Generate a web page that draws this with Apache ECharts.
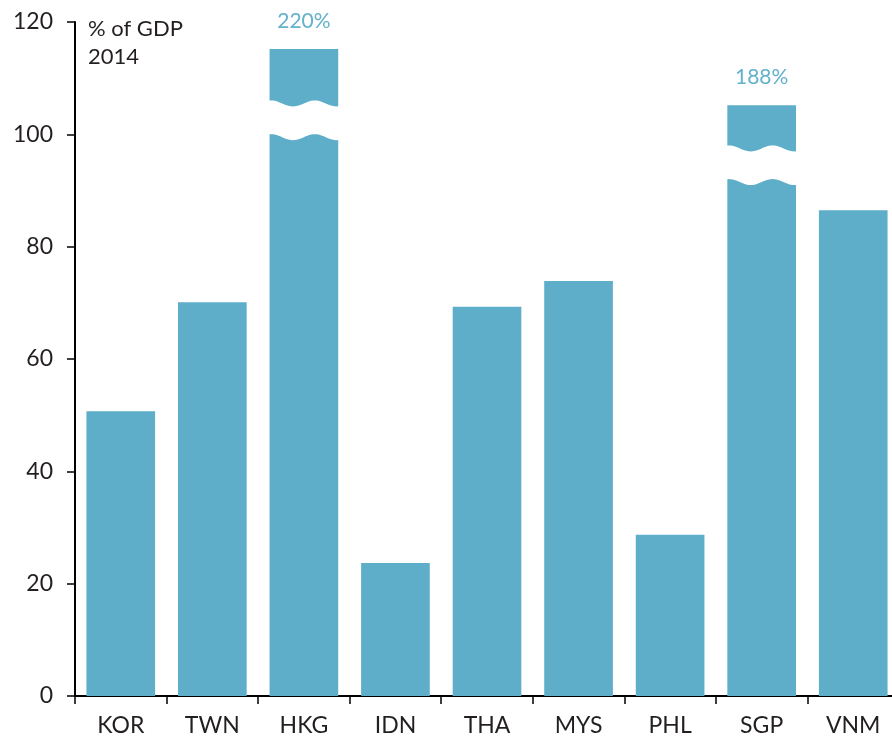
<!DOCTYPE html>
<html>
<head>
<meta charset="utf-8">
<script src="https://cdn.jsdelivr.net/npm/echarts@6/dist/echarts.min.js"></script>
<style>
  html, body { margin: 0; padding: 0; background: #fff; overflow: hidden; }
  /* a bit wider than the window: the reference crops the last category */
  #chart { width: 899px; height: 740px; }
</style>
</head>
<body>
<div id="chart"></div>
<script>
// values
const categories = ['KOR', 'TWN', 'HKG', 'IDN', 'THA', 'MYS', 'PHL', 'SGP', 'VNM'];
const barHeights = [50.7, 70.1, 115.2, 23.7, 69.3, 73.9, 28.7, 105.2, 86.5];
const trueLabels = ['', '', '220%', '', '', '', '', '188%', ''];
const breakLow = [null, null, 99.5, null, null, null, null, 91.5, null];
const breakHigh = [null, null, 105.5, null, null, null, null, 97.5, null];
const yMin = 0, yMax = 120, yStep = 20;

const barColor = '#5eaec9';
const font = 'Lato, "Noto Sans", sans-serif';

let chart = echarts.init(document.getElementById('chart'));

let breakData = [];
categories.forEach((c, i) => {
  if (breakLow[i] != null) breakData.push([i, breakLow[i], breakHigh[i]]);
});

// wavy white band across a bar
function renderBreak(params, api) {
  let idx = api.value(0);
  let low = api.coord([idx, api.value(1)]);
  let high = api.coord([idx, api.value(2)]);
  let w = api.size([1, 0])[0] * 0.75 + 4;
  let x0 = low[0] - w / 2;
  let amp = 3;
  let wave = t => -amp * Math.cos(2 * Math.PI * (t - 0.05) / 0.6);
  let pts = [];
  let n = 40;
  for (let k = 0; k <= n; k++) {
    let t = k / n;
    pts.push([x0 + t * w, high[1] + wave(t)]);
  }
  for (let k = n; k >= 0; k--) {
    let t = k / n;
    pts.push([x0 + t * w, low[1] + wave(t)]);
  }
  return {
    type: 'polygon',
    shape: { points: pts },
    style: { fill: '#fff' }
  };
}

chart.setOption({
  backgroundColor: '#fff',
  animation: false,
  grid: { left: 75, right: 0, top: 22, bottom: 44 },
  graphic: [{
    type: 'text',
    left: 88,
    top: 15,
    style: {
      text: '% of GDP\n2014',
      font: '22px ' + font,
      lineHeight: 28,
      fill: '#231f20'
    }
  }],
  xAxis: {
    type: 'category',
    data: categories,
    axisLine: { lineStyle: { color: '#000', width: 2 } },
    axisTick: { show: true, length: 8, lineStyle: { color: '#000', width: 1.5 } },
    axisLabel: { fontSize: 23, fontFamily: font, color: '#231f20', margin: 18 }
  },
  yAxis: {
    type: 'value',
    min: yMin,
    max: yMax,
    interval: yStep,
    splitLine: { show: false },
    axisLine: { show: true, lineStyle: { color: '#000', width: 2 } },
    axisTick: { show: true, length: 8, lineStyle: { color: '#000', width: 1.5 } },
    axisLabel: { fontSize: 23, fontFamily: font, color: '#231f20', margin: 22 }
  },
  series: [
    {
      type: 'bar',
      barCategoryGap: '25%',
      itemStyle: { color: barColor },
      data: barHeights.map((v, i) => ({
        value: v,
        label: {
          show: trueLabels[i] !== '',
          position: 'top',
          distance: 17,
          formatter: trueLabels[i],
          fontSize: 21,
          fontFamily: font,
          color: '#62b2cc'
        }
      }))
    },
    {
      type: 'custom',
      renderItem: renderBreak,
      data: breakData,
      encode: { x: 0, y: [1, 2] },
      z: 10,
      silent: true
    }
  ]
});
</script>
</body>
</html>
